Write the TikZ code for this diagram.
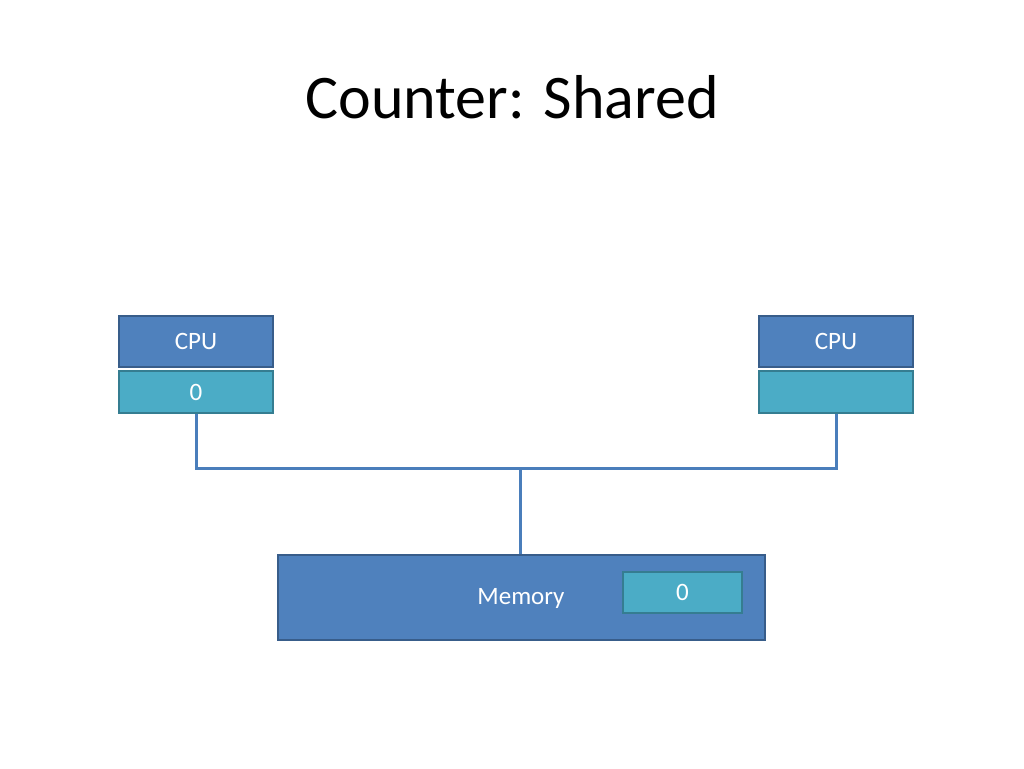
\documentclass[tikz,border=0pt]{standalone}
\usepackage{fontspec}
\setmainfont{Carlito}
\definecolor{cpufill}{HTML}{4F81BD}
\definecolor{cpuedge}{HTML}{385D8A}
\definecolor{cachefill}{HTML}{4BACC6}
\definecolor{cacheedge}{HTML}{357D91}
\definecolor{wire}{HTML}{4A7EBB}
\begin{document}
\begin{tikzpicture}[x=1pt,y=-1pt,
  cpubox/.style={draw=cpuedge,fill=cpufill,line width=2pt,minimum width=154pt,minimum height=51pt,inner sep=0pt,text=white,font=\fontsize{25}{30}\selectfont},
  cachebox/.style={draw=cacheedge,fill=cachefill,line width=2pt,minimum width=154pt,minimum height=42pt,inner sep=0pt,text=white,font=\fontsize{25}{30}\selectfont},
  membox/.style={draw=cpuedge,fill=cpufill,line width=2pt,minimum width=487pt,minimum height=85pt,inner sep=0pt},
  wireline/.style={draw=wire,line width=3pt},
  lbl/.style={text=white,font=\fontsize{25}{30}\selectfont,inner sep=0pt}]
\useasboundingbox (0,0) rectangle (1024,768);
\fill[white] (0,0) rectangle (1024,768);
\node[font=\fontsize{62}{70}\selectfont,inner sep=0pt] (title) at (512,97) {Counter: Shared};
\node[cpubox] (cpuL) at (196,341.5) {CPU};
\node[cachebox] (cacheL) at (196,392) {0};
\node[cpubox] (cpuR) at (836,341.5) {CPU};
\node[cachebox] (cacheR) at (836,392) {};
\node[membox] (mem) at (521.5,597.5) {};
\node[lbl] (memlbl) at (521,598) {Memory};
\node[cachebox,minimum width=119pt,minimum height=41pt] (memcache) at (682.5,592.5) {0};
\coordinate (j) at (520,468);
\draw[wireline] (cacheL.south) |- (j) -| (cacheR.south);
\draw[wireline] (j) -- (mem.north -| j);
\end{tikzpicture}
\end{document}
